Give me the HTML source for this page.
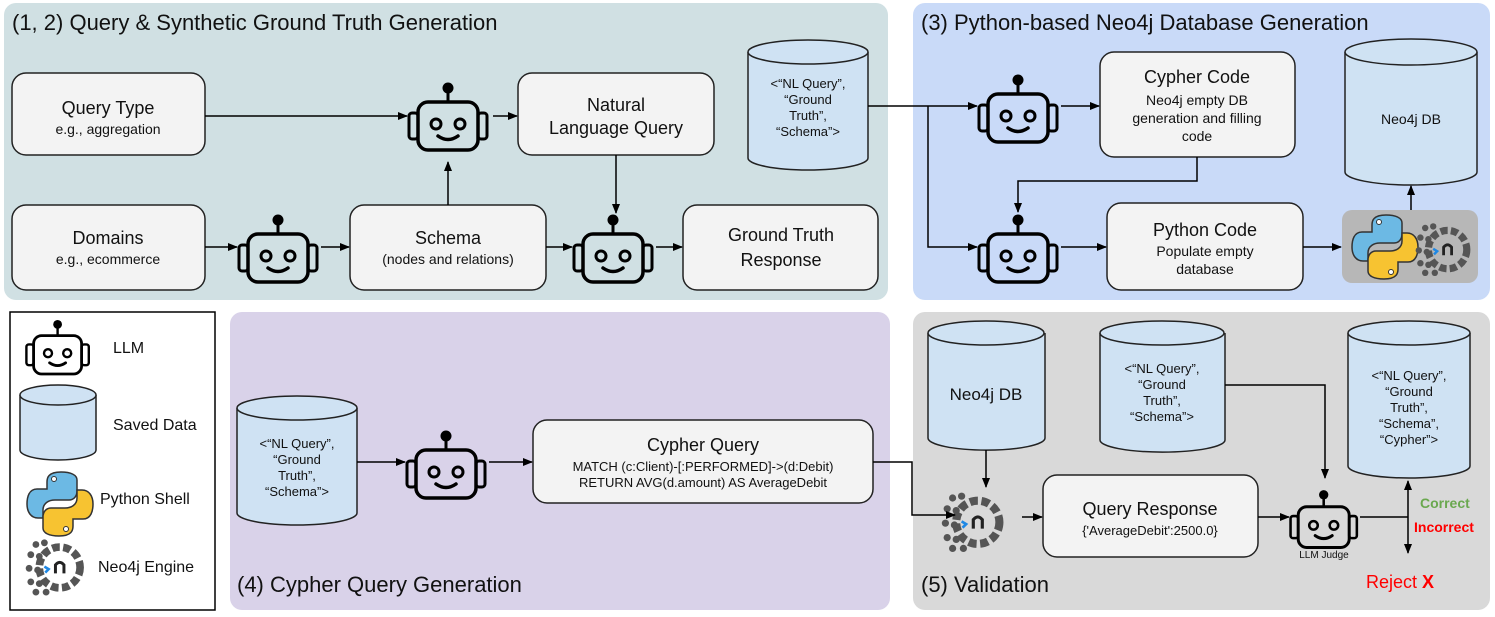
<!DOCTYPE html>
<html><head><meta charset="utf-8"><style>
body{margin:0;background:#fff}
svg{display:block;font-family:"Liberation Sans",Arial,sans-serif}
</style></head><body>
<svg width="1495" height="617" viewBox="0 0 1495 617" xmlns="http://www.w3.org/2000/svg">
<defs>
<marker id="a" markerWidth="10" markerHeight="8" refX="9" refY="4" orient="auto" markerUnits="userSpaceOnUse"><path d="M0,0 L10,4 L0,8z" fill="#000"/></marker>
<g id="bot">
<circle cx="42" cy="8" r="5.5" fill="#000"/>
<line x1="42" y1="12" x2="42" y2="23" stroke="#000" stroke-width="3"/>
<rect x="12" y="22" width="60" height="48" rx="10" fill="none" stroke="#000" stroke-width="3.5"/>
<rect x="3" y="33" width="9" height="26" rx="3" fill="none" stroke="#000" stroke-width="3"/>
<rect x="72" y="33" width="9" height="26" rx="3" fill="none" stroke="#000" stroke-width="3"/>
<circle cx="30" cy="44" r="5" fill="none" stroke="#000" stroke-width="3"/>
<circle cx="54" cy="44" r="5" fill="none" stroke="#000" stroke-width="3"/>
<path d="M32 56 Q42 63 52 56" fill="none" stroke="#000" stroke-width="3.5" stroke-linecap="round"/>
</g>
<g id="py">
<path d="M18 0 C5 0 4 6 4 10 L4 17 L-6 17 C-14 17 -16 25 -16 32 C-16 40 -12 46 -5 46 L0 46 L0 38 C0 31 6 28 12 28 L26 28 C31 28 34 24 34 19 L34 8 C34 3 28 0 18 0Z" fill="#6cb9e4" stroke="#333" stroke-width="1.5"/>
<path d="M16 64 C29 64 30 58 30 54 L30 47 L40 47 C48 47 50 39 50 32 C50 24 46 18 39 18 L34 18 L34 26 C34 33 28 36 22 36 L8 36 C3 36 0 40 0 45 L0 56 C0 61 6 64 16 64Z" fill="#f7c331" stroke="#333" stroke-width="1.5"/>
<circle cx="11" cy="7" r="2.5" fill="#fff" stroke="#333"/>
<circle cx="23" cy="57" r="2.5" fill="#fff" stroke="#333"/>
</g>
<g id="neo">
<circle cx="42" cy="37" r="24" fill="none" stroke="#555" stroke-width="9" stroke-dasharray="9 4"/>
<path d="M37 44 L37 34 Q42 28 47 34 L47 44" fill="none" stroke="#222" stroke-width="3.5"/>
<path d="M24 36 L29 39 L25 43" fill="none" stroke="#1e88e5" stroke-width="3"/>
<g fill="#555"><circle cx="14" cy="10" r="4"/><circle cx="24" cy="8" r="4"/><circle cx="8" cy="22" r="4"/><circle cx="18" cy="24" r="4"/><circle cx="6" cy="38" r="4"/><circle cx="16" cy="40" r="4"/><circle cx="8" cy="54" r="4"/><circle cx="18" cy="56" r="4"/><circle cx="14" cy="66" r="4"/><circle cx="26" cy="66" r="4"/></g>
</g>
</defs>

<rect x="4" y="3" width="884" height="297" rx="12" fill="#d0e0e3"/>
<rect x="913" y="3" width="577" height="297" rx="12" fill="#c9daf8"/>
<rect x="10" y="312" width="205" height="298" fill="#fff" stroke="#000" stroke-width="1.5"/>
<rect x="230" y="312" width="660" height="298" rx="12" fill="#d9d2e9"/>
<rect x="913" y="312" width="577" height="298" rx="12" fill="#d9d9d9"/>

<g font-size="22" fill="#111">
<text x="12" y="30">(1, 2) Query &amp; Synthetic Ground Truth Generation</text>
<text x="921" y="30">(3) Python-based Neo4j Database Generation</text>
<text x="237" y="592">(4) Cypher Query Generation</text>
<text x="921" y="592">(5) Validation</text>
</g>

<g fill="#f3f3f3" stroke="#222" stroke-width="1.5">
<rect x="12" y="73" width="193" height="82" rx="14"/>
<rect x="518" y="73" width="196" height="82" rx="14"/>
<rect x="12" y="205" width="193" height="85" rx="14"/>
<rect x="350" y="205" width="196" height="85" rx="14"/>
<rect x="683" y="205" width="195" height="85" rx="14"/>
<rect x="1100" y="52" width="195" height="105" rx="14"/>
<rect x="1107" y="203" width="196" height="87" rx="14"/>
<rect x="533" y="420" width="340" height="83" rx="14"/>
<rect x="1043" y="475" width="215" height="82" rx="14"/>
</g>
<rect x="1342" y="210" width="136" height="73" rx="10" fill="#b7b7b7"/>

<g fill="#cfe2f3" stroke="#222" stroke-width="1.5">
<path d="M748 52 L748 158 A60 12 0 0 0 868 158 L868 52"/><ellipse cx="808" cy="52" rx="60" ry="12"/>
<path d="M1345 52 L1345 172 A66 13 0 0 0 1477 172 L1477 52"/><ellipse cx="1411" cy="52" rx="66" ry="13"/>
<path d="M237 408 L237 513 A60 12 0 0 0 357 513 L357 408"/><ellipse cx="297" cy="408" rx="60" ry="12"/>
<path d="M928 333 L928 438 A58 12 0 0 0 1045 438 L1045 333"/><ellipse cx="986" cy="333" rx="58" ry="12"/>
<path d="M1100 333 L1100 440 A62 12 0 0 0 1225 440 L1225 333"/><ellipse cx="1162" cy="333" rx="62" ry="12"/>
<path d="M1348 333 L1348 466 A61 12 0 0 0 1470 466 L1470 333"/><ellipse cx="1409" cy="333" rx="61" ry="12"/>
<path d="M20 395 L20 450 A38 10 0 0 0 96 450 L96 395"/><ellipse cx="58" cy="395" rx="38" ry="10"/>
</g>

<use href="#bot" x="406" y="80"/>
<use href="#bot" x="236" y="212"/>
<use href="#bot" x="571" y="212"/>
<use href="#bot" x="976" y="72"/>
<use href="#bot" x="976" y="212"/>
<use href="#bot" x="404" y="428"/>
<use href="#bot" transform="translate(1288,488) scale(0.85)"/>
<use href="#bot" transform="translate(24,318) scale(0.8)"/>

<use href="#py" x="1368" y="215"/>
<use href="#neo" transform="translate(1414,220) scale(0.8)"/>
<use href="#py" x="43" y="472"/>
<use href="#neo" transform="translate(24,536) scale(0.85)"/>
<use href="#neo" transform="translate(940,489) scale(0.9)"/>

<g text-anchor="middle" fill="#111">
<text x="108" y="114" font-size="18">Query Type</text>
<text x="108" y="134" font-size="14">e.g., aggregation</text>
<text x="616" y="111" font-size="18">Natural</text>
<text x="616" y="134" font-size="18">Language Query</text>
<text x="108" y="244" font-size="18">Domains</text>
<text x="108" y="264" font-size="14">e.g., ecommerce</text>
<text x="448" y="244" font-size="18">Schema</text>
<text x="448" y="264" font-size="14">(nodes and relations)</text>
<text x="781" y="241" font-size="18">Ground Truth</text>
<text x="781" y="266" font-size="18">Response</text>
<g font-size="13"><text x="808" y="88">&lt;“NL Query”,</text><text x="808" y="104">“Ground</text><text x="808" y="120">Truth”,</text><text x="808" y="136">“Schema”&gt;</text></g>
<text x="1197" y="83" font-size="18">Cypher Code</text>
<text x="1197" y="105" font-size="14">Neo4j empty DB</text>
<text x="1197" y="123" font-size="14">generation and filling</text>
<text x="1197" y="141" font-size="14">code</text>
<text x="1411" y="124" font-size="14">Neo4j DB</text>
<text x="1205" y="236" font-size="18">Python Code</text>
<text x="1205" y="256" font-size="14">Populate empty</text>
<text x="1205" y="274" font-size="14">database</text>
<g font-size="13"><text x="297" y="448">&lt;“NL Query”,</text><text x="297" y="464">“Ground</text><text x="297" y="480">Truth”,</text><text x="297" y="496">“Schema”&gt;</text></g>
<text x="703" y="451" font-size="18">Cypher Query</text>
<text x="703" y="471" font-size="13">MATCH (c:Client)-[:PERFORMED]-&gt;(d:Debit)</text>
<text x="703" y="487" font-size="13">RETURN AVG(d.amount) AS AverageDebit</text>
<text x="986" y="400" font-size="17">Neo4j DB</text>
<g font-size="13"><text x="1162" y="373">&lt;“NL Query”,</text><text x="1162" y="389">“Ground</text><text x="1162" y="405">Truth”,</text><text x="1162" y="421">“Schema”&gt;</text></g>
<g font-size="13"><text x="1409" y="380">&lt;“NL Query”,</text><text x="1409" y="396">“Ground</text><text x="1409" y="412">Truth”,</text><text x="1409" y="428">“Schema”,</text><text x="1409" y="444">“Cypher”&gt;</text></g>
<text x="1150" y="515" font-size="18">Query Response</text>
<text x="1150" y="535" font-size="13">{'AverageDebit':2500.0}</text>
<text x="1324" y="558" font-size="10">LLM Judge</text>
</g>
<text x="1420" y="508" font-size="14" font-weight="bold" fill="#6aa84f">Correct</text>
<text x="1414" y="532" font-size="14" font-weight="bold" fill="#ff0000">Incorrect</text>
<text x="1366" y="588" font-size="18" fill="#ff0000">Reject <tspan font-weight="bold">X</tspan></text>
<g font-size="16" fill="#111">
<text x="113" y="353">LLM</text>
<text x="113" y="430">Saved Data</text>
<text x="100" y="504">Python Shell</text>
<text x="98" y="572">Neo4j Engine</text>
</g>

<g stroke="#000" stroke-width="1.5" fill="none" marker-end="url(#a)">
<line x1="205" y1="116" x2="407" y2="116"/>
<line x1="493" y1="116" x2="517" y2="116"/>
<line x1="205" y1="247" x2="237" y2="247"/>
<line x1="321" y1="247" x2="349" y2="247"/>
<line x1="448" y1="205" x2="448" y2="162"/>
<line x1="546" y1="247" x2="572" y2="247"/>
<line x1="656" y1="247" x2="682" y2="247"/>
<line x1="616" y1="155" x2="616" y2="213"/>
<line x1="868" y1="106" x2="977" y2="106"/>
<polyline points="928,106 928,247 977,247"/>
<line x1="1061" y1="106" x2="1099" y2="106"/>
<polyline points="1197,157 1197,181 1018,181 1018,212"/>
<line x1="1061" y1="247" x2="1106" y2="247"/>
<line x1="1303" y1="247" x2="1341" y2="247"/>
<line x1="1411" y1="210" x2="1411" y2="186"/>
<line x1="357" y1="462" x2="405" y2="462"/>
<line x1="489" y1="462" x2="532" y2="462"/>
<polyline points="873,462 912,462 912,515 955,515"/>
<line x1="986" y1="450" x2="986" y2="487"/>
<line x1="1022" y1="517" x2="1042" y2="517"/>
<line x1="1258" y1="517" x2="1289" y2="517"/>
<polyline points="1225,385 1325,385 1325,478"/>
</g>
<g stroke="#000" stroke-width="1.5" fill="none">
<line x1="1360" y1="517" x2="1408" y2="517"/>
<line x1="1408" y1="517" x2="1408" y2="481" marker-end="url(#a)"/>
<line x1="1408" y1="517" x2="1408" y2="553" marker-end="url(#a)"/>
</g>
</svg>
</body></html>
